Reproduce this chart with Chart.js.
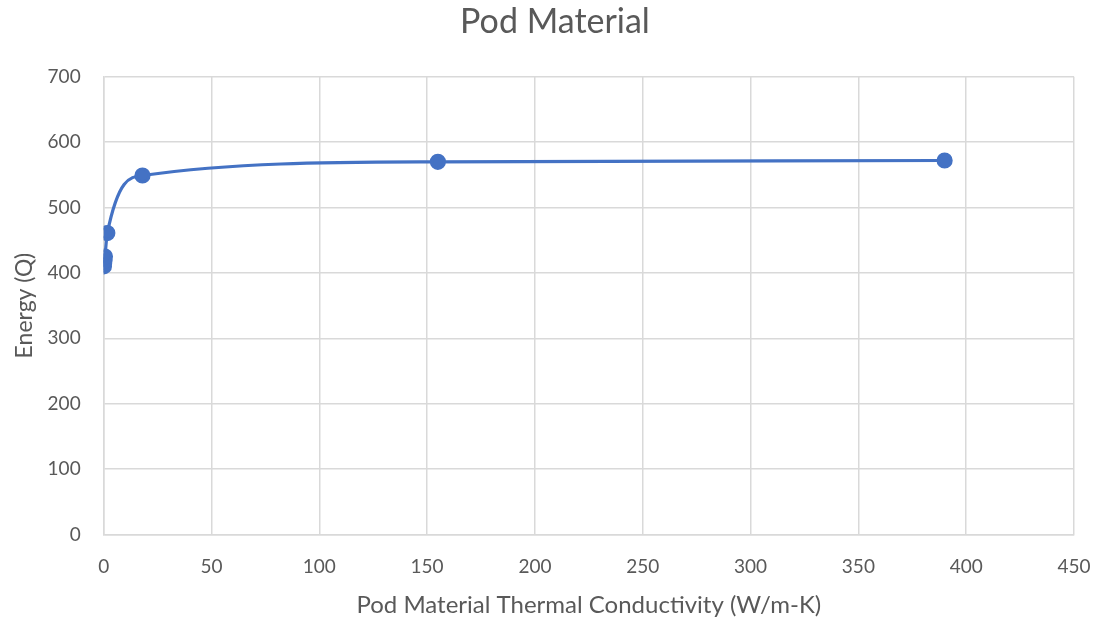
<!DOCTYPE html>
<html>
<head>
<meta charset="utf-8">
<title>Pod Material</title>
<script src="https://cdn.jsdelivr.net/npm/chart.js@4"></script>
<style>
  html, body { margin: 0; padding: 0; background: #fff; }
</style>
</head>
<body>
<canvas id="chartPod" width="1099" height="622"></canvas>
<script>
  // thermal conductivity (W/m-K) and energy (Q) per pod material
  const conductivity = [0.1, 0.2, 0.4, 0.6, 1.7, 18, 155, 390];
  const energy = [410, 414, 419, 425, 461, 549, 570, 572];

  const xTicks = [0, 450, 50];
  const yTicks = [0, 700, 100];

  const points = conductivity.map((k, i) => ({ x: k, y: energy[i] }));

  const gray = '#595959';
  const gridColor = '#d9d9d9';
  const fontFamily = 'Lato, "Open Sans", sans-serif';

  new Chart(document.getElementById('chartPod'), {
    type: 'scatter',
    data: {
      datasets: [{
        label: 'Energy',
        data: points,
        showLine: true,
        cubicInterpolationMode: 'monotone',
        borderColor: '#4472C4',
        backgroundColor: '#4472C4',
        borderWidth: 3.2,
        pointRadius: 6.5,
        pointHoverRadius: 6.5
      }]
    },
    options: {
      responsive: false,
      animation: false,
      layout: { padding: { left: 11, right: 0, top: 2, bottom: 2 } },
      plugins: {
        legend: { display: false },
        tooltip: { enabled: false },
        title: {
          display: true,
          text: 'Pod Material',
          color: gray,
          font: { family: fontFamily, size: 34, weight: 'normal' },
          padding: { top: 0, bottom: 34 }
        }
      },
      scales: {
        x: {
          type: 'linear',
          min: xTicks[0],
          max: xTicks[1],
          ticks: {
            stepSize: xTicks[2],
            color: gray,
            font: { family: fontFamily, size: 19 },
            padding: 21
          },
          // tick padding also widens the side room for the last label; keep only what "450" needs
          afterFit: scale => { scale.paddingRight = 25; },
          grid: { color: gridColor, lineWidth: 1.5, drawTicks: false },
          border: { color: gridColor, width: 1.5 },
          title: {
            display: true,
            text: 'Pod Material Thermal Conductivity (W/m-K)',
            color: gray,
            font: { family: fontFamily, size: 24 },
            padding: { top: -8, bottom: 0 }
          }
        },
        y: {
          min: yTicks[0],
          max: yTicks[1],
          ticks: {
            stepSize: yTicks[2],
            color: gray,
            font: { family: fontFamily, size: 19 },
            padding: 23
          },
          grid: { color: gridColor, lineWidth: 1.5, drawTicks: false },
          border: { color: gridColor, width: 1.5 },
          title: {
            display: true,
            text: 'Energy (Q)',
            color: gray,
            font: { family: fontFamily, size: 23 },
            padding: { top: 0, bottom: -14 }
          }
        }
      }
    }
  });
</script>
</body>
</html>
